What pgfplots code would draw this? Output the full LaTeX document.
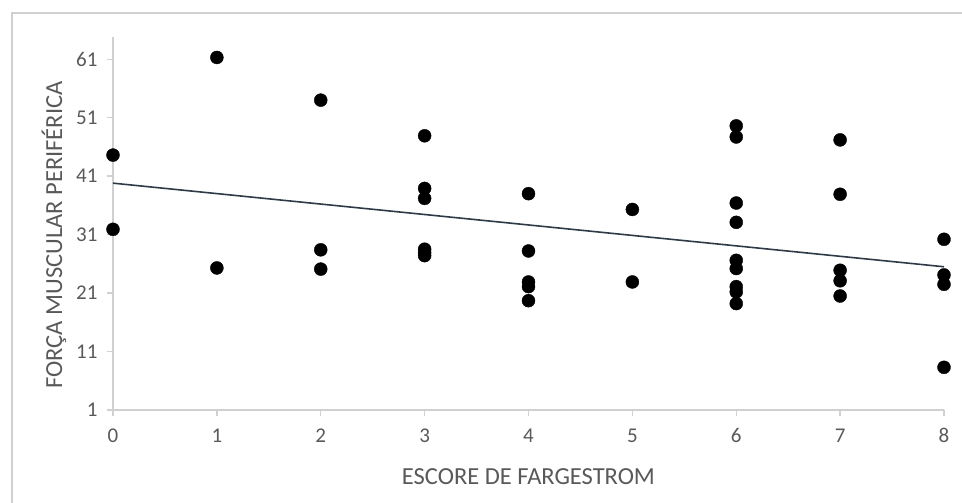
\documentclass[border=0pt]{standalone}
\usepackage{pgfplots}
\pgfplotsset{compat=1.18}
\usepackage{fontspec}
\setmainfont{Carlito}
\definecolor{txt}{HTML}{595959}
\definecolor{axl}{HTML}{D0D0D0}
\definecolor{trend}{HTML}{2E3A46}
\begin{document}
\begin{tikzpicture}
\path[use as bounding box] (-113pt,-93pt) rectangle (849pt,410pt);
\draw[axl, line width=2.2pt] (-101pt,-93pt) -- (-101pt,397pt) -- (849pt,397pt);
\begin{axis}[
  scale only axis,
  width=831pt, height=373pt,
  xmin=0, xmax=8, ymin=1, ymax=64.8,
  xtick={0,1,2,3,4,5,6,7,8},
  ytick={1,11,21,31,41,51,61},
  axis x line=bottom, axis y line=left,
  axis line style={axl, line width=1.3pt, -},
  tick style={axl, line width=1.3pt},
  tick align=outside,
  major tick length=6pt,
  clip=false,
  /pgf/number format/assume math mode=true,
  ticklabel style={font=\fontsize{21}{23}\selectfont, text=txt},
  yticklabel style={xshift=-6pt},
  xticklabel style={yshift=-9pt},
  xlabel={ESCORE DE FARGESTROM},
  ylabel={FORÇA MUSCULAR PERIFÉRICA},
  label style={font=\fontsize{24.5}{26}\selectfont, text=txt},
  x label style={at={(axis description cs:0.5,0)}, anchor=center, yshift=-67pt},
  y label style={at={(axis description cs:-0.071,0.469)}, anchor=center},
]
\addplot[only marks, mark=*, mark size=6.5pt, mark options={fill=black, draw=black}] coordinates {
(0,44.6) (0,31.9)
(1,61.3) (1,25.3)
(2,54.0) (2,28.4) (2,25.1)
(3,47.9) (3,38.9) (3,37.2) (3,28.5) (3,27.9) (3,27.4)
(4,38.0) (4,28.2) (4,22.9) (4,22.1) (4,19.7)
(5,35.3) (5,22.9)
(6,49.6) (6,47.7) (6,36.4) (6,33.1) (6,26.6) (6,25.2) (6,22.1) (6,21.2) (6,19.2)
(7,47.2) (7,37.9) (7,24.9) (7,23.1) (7,20.5)
(8,30.2) (8,24.1) (8,22.5) (8,8.3)
};
\addplot[trend, line width=1.6pt] coordinates {(0,39.8) (8,25.5)};
\end{axis}
\end{tikzpicture}
\end{document}
